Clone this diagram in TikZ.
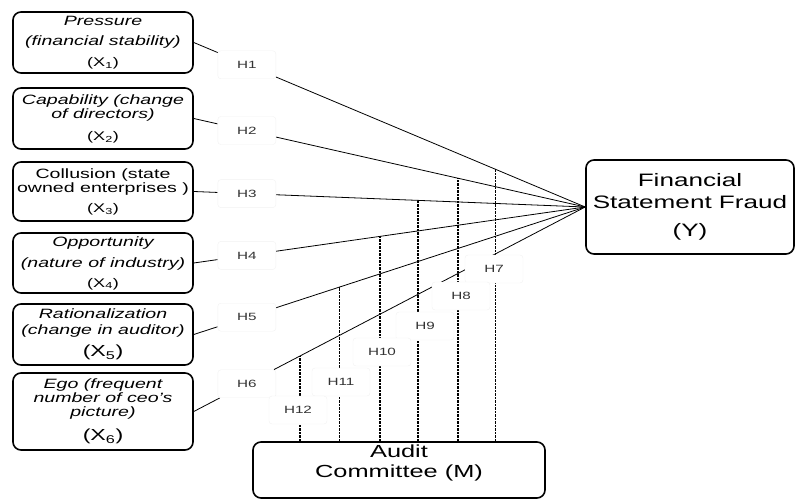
\documentclass[tikz,border=0pt]{standalone}
\usepackage{fontspec}
\setmainfont[FakeStretch=1.45]{Liberation Sans}
\usetikzlibrary{calc,backgrounds}
\begin{document}
\begin{tikzpicture}[x=1pt,y=-1pt,
  box/.style={draw, line width=1.6pt, rounded corners=8pt, align=center, inner sep=0pt},
  lbox/.style={box, minimum width=180pt, font=\fontsize{13.5}{14}\selectfont},
  hlab/.style={fill=white, draw=black!5, rounded corners=3pt, minimum width=58pt,
    minimum height=28pt, inner sep=0pt, text=black!80, font=\fontsize{10.5}{12}\selectfont},
  link/.style={line width=0.8pt},
  dlink/.style={line width=1.3pt, dash pattern=on 2.5pt off 1pt}]
\useasboundingbox (0,0) rectangle (796,503);

% left boxes
\node[lbox, minimum height=61pt] (X1) at (103,42.5)
  {\itshape Pressure\\[6pt]\itshape (financial stability)\\[7pt]{\upshape\fontsize{12.5}{14}\selectfont (X\textsubscript{1})}};
\node[lbox, minimum height=61pt] (X2) at (103,118.5)
  {\itshape Capability (change\\\itshape of directors)\\[8pt]{\upshape\fontsize{12.5}{14}\selectfont (X\textsubscript{2})}};
\node[lbox, minimum height=59pt] (X3) at (103,191.5)
  {Collusion (state\\owned enterprises )\\[6pt]{\fontsize{12.5}{14}\selectfont (X\textsubscript{3})}};
\node[lbox, minimum height=60pt] (X4) at (103,263)
  {\itshape Opportunity\\[7pt]\itshape (nature of industry)\\[6pt]{\upshape\fontsize{12.5}{14}\selectfont (X\textsubscript{4})}};
\node[lbox, minimum height=61pt] (X5) at (103,334.5)
  {\itshape Rationalization\\[2pt]\itshape (change in auditor)\\[6.5pt]{\upshape\fontsize{16}{18}\selectfont (X\textsubscript{5})}};
\node[lbox, minimum height=77pt] (X6) at (103,411.5)
  {\itshape Ego (frequent\\\itshape number of ceo’s\\\itshape picture)\\[9pt]{\upshape\fontsize{16}{18}\selectfont (X\textsubscript{6})}};

% dependent and moderator
\node[box, minimum width=208pt, minimum height=94pt, font=\fontsize{18}{20}\selectfont] (Y) at (690,207)
  {Financial\\[2pt]Statement Fraud\\[8pt](Y)};
\node[box, minimum width=292pt, minimum height=56pt, font=\fontsize{17.5}{20}\selectfont] (M) at (399,470)
  {\raisebox{7pt}[\height][\depth]{\begin{tabular}{@{}c@{}}Audit\\Committee (M)\end{tabular}}};

% direct hypothesis labels
\node[hlab] (H1) at ($(X1.east)!0.1355!(Y.west)$) {H1};
\node[hlab] (H2) at ($(X2.east)!0.1355!(Y.west)$) {H2};
\node[hlab] (H3) at ($(X3.east)!0.1355!(Y.west)$) {H3};
\node[hlab] (H4) at ($(X4.east)!0.1355!(Y.west)$) {H4};
\node[hlab] (H5) at ($(X5.east)!0.1355!(Y.west)$) {H5};
\node[hlab] (H6) at ($(X6.east)!0.1355!(Y.west)$) {H6};

% moderation labels
\node[hlab] (H7) at (494,269) {H7};
\node[hlab] (H8) at (461,296) {H8};
\node[hlab] (H9) at (425,326) {H9};
\node[hlab] (H10) at (382,352) {H10};
\node[hlab] (H11) at (341,382) {H11};
\node[hlab] (H12) at (298,410) {H12};

% meeting points of moderation lines
\coordinate (T7) at ($(X1.east)!0.770!(Y.west)$);
\coordinate (T8) at ($(X2.east)!0.675!(Y.west)$);
\coordinate (T9) at ($(X3.east)!0.573!(Y.west)$);
\coordinate (T10) at ($(X4.east)!0.476!(Y.west)$);
\coordinate (T11) at ($(X5.east)!0.373!(Y.west)$);
\coordinate (T12) at ($(X6.east)!0.271!(Y.west)$);

\begin{scope}[on background layer]
  \draw[link] (X1.east) -- (H1) -- (Y.west);
  \draw[link] (X2.east) -- (H2) -- (Y.west);
  \draw[link] (X3.east) -- (H3) -- (Y.west);
  \draw[link] (X4.east) -- (H4) -- (Y.west);
  \draw[link] (X5.east) -- (H5) -- (Y.west);
  \draw[link] (X6.east) -- (H6) -- (Y.west);
  \draw[dlink] (T7 |- M.north) -- (T7);
  \draw[dlink] (T8 |- M.north) -- (T8);
  \draw[dlink] (T9 |- M.north) -- (T9);
  \draw[dlink] (T10 |- M.north) -- (T10);
  \draw[dlink] (T11 |- M.north) -- (T11);
  \draw[dlink] (T12 |- M.north) -- (T12);
\end{scope}
\end{tikzpicture}
\end{document}
